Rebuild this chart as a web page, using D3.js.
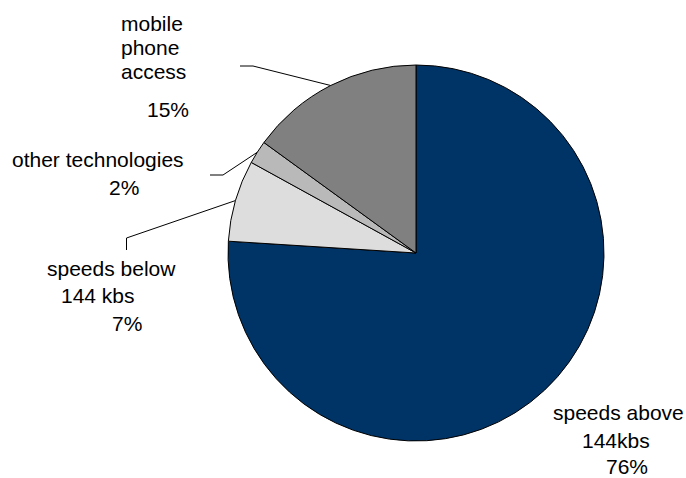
<!DOCTYPE html>
<html>
<head>
<meta charset="utf-8">
<script src="https://cdn.jsdelivr.net/npm/d3@7/dist/d3.min.js"></script>
<style>
  html, body { margin: 0; padding: 0; background: #fff; }
  svg { display: block; }
  text { font-family: "Liberation Sans", Arial, sans-serif; font-size: 21px; fill: #000; }
</style>
</head>
<body>
<svg id="chart" width="686" height="478"></svg>
<script>
// Share of connections by access type (percent), clockwise from 12 o'clock
const categories = ["speeds above 144kbs", "speeds below 144 kbs", "other technologies", "mobile phone access"];
const values = [76, 7, 2, 15];
const colors = ["#003366", "#dddddd", "#b9b9b9", "#808080"];

// Label text, one entry per line
const labelLines = [
  ["speeds above", "144kbs", "76%"],
  ["speeds below", "144 kbs", "7%"],
  ["other technologies", "2%"],
  ["mobile", "phone", "access", "15%"]
];

// Label placement: [x, baseline] for each line
const labelPos = [
  [[553, 420], [582, 448], [606, 474]],
  [[47, 276], [61, 303], [112, 331]],
  [[12, 167], [109, 195]],
  [[121, 31], [121, 55], [121, 79], [147, 117]]
];

// Leader lines: elbow points leading to the slice's outer edge
const leaderElbows = [
  null,
  [[126.5, 250], [126.5, 238]],
  [[210, 175], [223, 175]],
  [[240, 66], [253, 66]]
];

const svg = d3.select("#chart");
const cx = 416, cy = 253, r = 188;

const pie = d3.pie().sort(null).value(d => d)(values);
const arc = d3.arc().innerRadius(0).outerRadius(r);

const g = svg.append("g").attr("transform", `translate(${cx},${cy})`);
g.selectAll("path.slice")
  .data(pie)
  .join("path")
  .attr("class", "slice")
  .attr("d", arc)
  .attr("fill", (d, i) => colors[i])
  .attr("stroke", "#000")
  .attr("stroke-width", 1)
  .attr("stroke-linejoin", "round");

// Leader lines end at the middle of each slice's rim
pie.forEach((d, i) => {
  if (!leaderElbows[i]) return;
  const a = (d.startAngle + d.endAngle) / 2;
  const end = [cx + r * Math.sin(a), cy - r * Math.cos(a)];
  const pts = leaderElbows[i].concat([end]);
  svg.append("path")
    .attr("d", d3.line()(pts))
    .attr("fill", "none")
    .attr("stroke", "#000")
    .attr("stroke-width", 1);
});

labelLines.forEach((lines, i) => {
  lines.forEach((t, j) => {
    svg.append("text")
      .attr("x", labelPos[i][j][0])
      .attr("y", labelPos[i][j][1])
      .text(t);
  });
});
</script>
</body>
</html>
